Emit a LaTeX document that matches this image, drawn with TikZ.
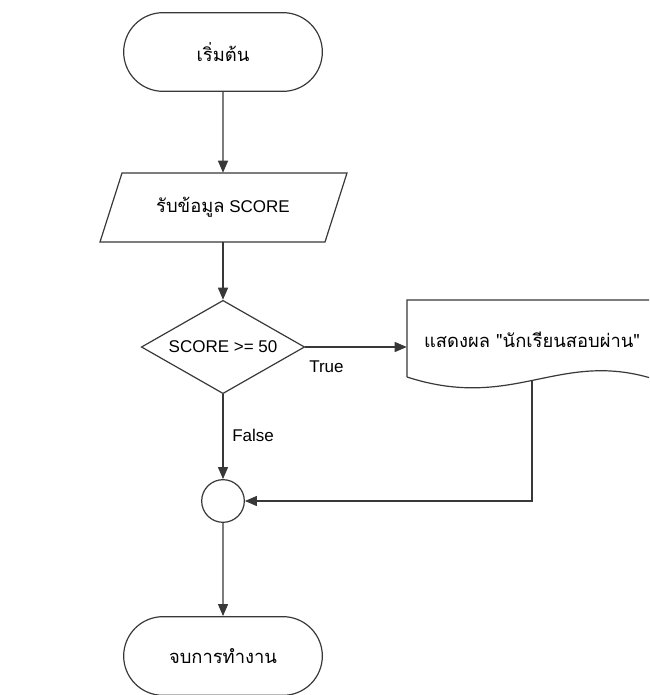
\documentclass[tikz,border=0pt]{standalone}
\usepackage{fontspec}
\setmainfont{Liberation Sans}
\newfontfamily\thai[Script=Thai,Scale=1.08]{Loma}
\usetikzlibrary{arrows.meta,shapes.misc,shapes.geometric}
\begin{document}
\begin{tikzpicture}[x=0.75pt,y=-0.75pt,
  font=\fontsize{12.75}{15}\selectfont,
  line/.style={draw=black!78,line width=0.9pt},
  flow/.style={line,-{Triangle[length=9pt,width=7.5pt]}},
  term/.style={line,rounded rectangle,minimum width=149pt,minimum height=59pt,inner sep=0pt},
  decision/.style={line,diamond,aspect=1.75,minimum width=122.5pt,minimum height=70pt,inner sep=0pt},
  joint/.style={line,circle,minimum size=32pt,inner sep=0pt},
  holder/.style={inner sep=0pt},
  tag/.style={inner sep=0pt,anchor=west}]
\useasboundingbox (0,0) rectangle (649,695);
\clip (0,0) rectangle (649,695);

% start terminator
\node[term] (start) at (223,52) {\thai เริ่มต้น};

% input parallelogram
\draw[line] (100,242) -- (122,173) -- (347,173) -- (325,242) -- cycle;
\node[holder,minimum width=150pt,minimum height=51.75pt] (input) at (223,207.5) {{\thai รับข้อมูล} SCORE};

% decision
\node[decision] (dec) at (223,347) {SCORE >= 50};

% output document with wavy bottom
\draw[line] (407,377) -- (407,300) -- (657,300) -- (657,380)
  .. controls (560,348) and (515,412) .. (407,377);
\node[holder,minimum width=187.5pt,minimum height=60pt] (doc) at (532,340) {{\thai แสดงผล "นักเรียนสอบผ่าน"}};

% merge point
\node[joint] (merge) at (223,501) {};

% end terminator
\node[term] (stop) at (223,656) {\thai จบการทำงาน};

% connectors
\draw[flow] (start) -- (input);
\draw[flow] (input) -- (dec);
\draw[flow] (dec.east) -- (dec.east -| doc.west);
\draw[flow] (dec.south) -- (merge.north);
\draw[flow] (doc.south) |- (merge.east);
\draw[flow] (merge) -- (stop);

% branch labels
\node[tag] (tlabel) at (309,367) {True};
\node[tag] (flabel) at (232,435) {False};
\end{tikzpicture}
\end{document}
